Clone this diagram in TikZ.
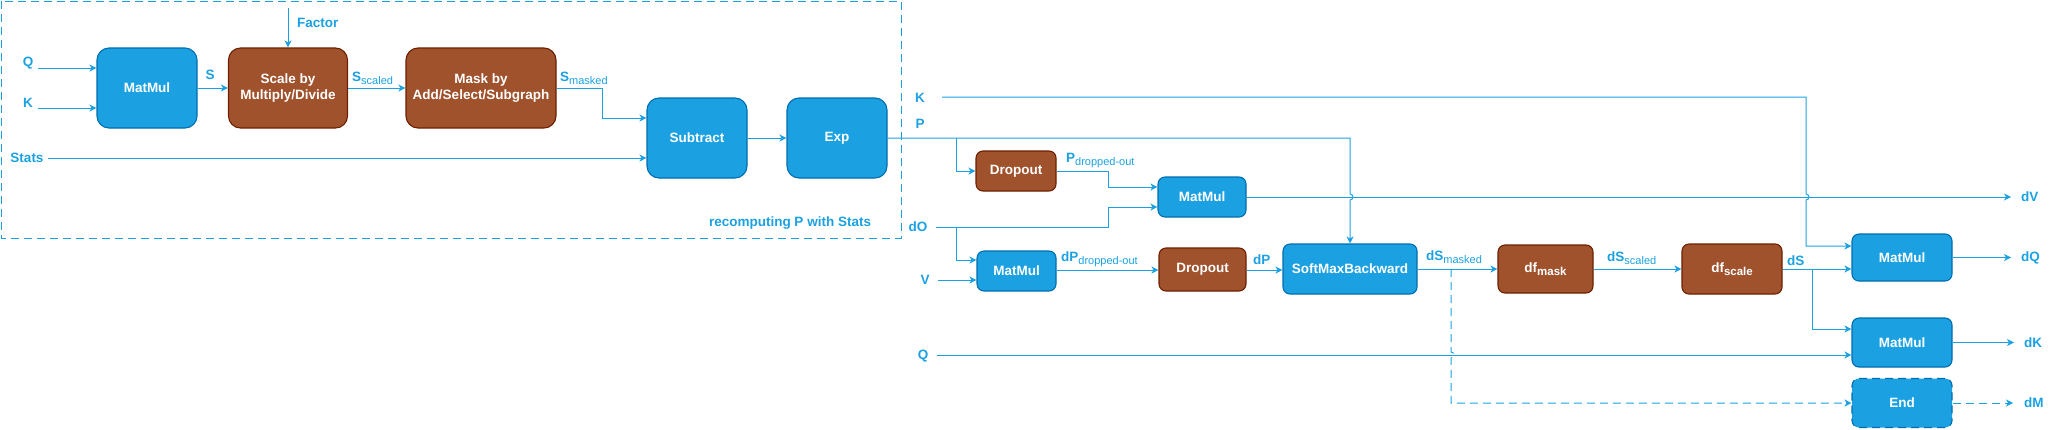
\documentclass[tikz,border=0pt]{standalone}
\usepackage{fontspec}
\setmainfont{Liberation Sans}
\usetikzlibrary{arrows.meta}
\definecolor{bfill}{HTML}{1BA1E2}
\definecolor{bdraw}{HTML}{006EAF}
\definecolor{rfill}{HTML}{A0522D}
\definecolor{rdraw}{HTML}{6D1F00}
\definecolor{ln}{HTML}{1BA1E2}
\tikzset{
  box/.style={line width=1.1pt, text=white, font=\fontsize{13.5}{16}\selectfont\bfseries, align=center, inner sep=0pt},
  bigr/.style={rounded corners=12pt},
  smallr/.style={rounded corners=7pt},
  bbox/.style={box, fill=bfill, draw=bdraw},
  rbox/.style={box, fill=rfill, draw=rdraw},
  lbl/.style={text=ln, font=\fontsize{13.5}{16}\selectfont\bfseries, inner sep=0pt},
  arr/.style={draw=ln, line width=1pt, -{Stealth[length=7pt,width=7pt,inset=2pt]}},
  ln/.style={draw=ln, line width=1pt},
  dsh/.style={dash pattern=on 8pt off 5pt},
}
\newcommand{\sbn}[1]{\raisebox{-3pt}{\fontsize{11}{12}\selectfont\mdseries #1}}
\newcommand{\sbb}[1]{\raisebox{-3pt}{\fontsize{11.5}{12}\selectfont #1}}
\begin{document}
\begin{tikzpicture}[x=1pt,y=-1pt]
\useasboundingbox (0,0) rectangle (2058,429);
% group
\draw[ln,dsh] (1,1) rectangle (901,238);
\node[lbl] (grp) at (790,223) {recomputing P with Stats};
% nodes
\node[bbox,bigr,minimum width=100pt,minimum height=80pt] (mm1) at (147,88) {MatMul};
\node[rbox,bigr,minimum width=119pt,minimum height=80pt] (scale) at (288,88) {Scale by\\Multiply/Divide};
\node[rbox,bigr,minimum width=150pt,minimum height=80pt] (mask) at (481,88) {Mask by\\Add/Select/Subgraph};
\node[bbox,bigr,minimum width=100pt,minimum height=80pt] (sub) at (697,138) {Subtract};
\node[bbox,bigr,minimum width=100pt,minimum height=80pt] (exp) at (837,138) {Exp};
\node[rbox,smallr,minimum width=80pt,minimum height=40pt] (drop1) at (1016,171) {Dropout};
\node[bbox,smallr,minimum width=88pt,minimum height=40pt] (mm2) at (1202,197) {MatMul};
\node[bbox,smallr,minimum width=79pt,minimum height=40pt] (mm3) at (1016.5,271) {MatMul};
\node[rbox,smallr,minimum width=87pt,minimum height=43pt] (drop2) at (1202.5,269.5) {Dropout};
\node[bbox,smallr,minimum width=134pt,minimum height=50pt] (smb) at (1350,269) {SoftMaxBackward};
\node[rbox,smallr,minimum width=95pt,minimum height=48pt] (dfmask) at (1545.5,269) {df\sbb{mask}};
\node[rbox,smallr,minimum width=100pt,minimum height=50pt] (dfscale) at (1732,269) {df\sbb{scale}};
\node[bbox,smallr,minimum width=100pt,minimum height=47pt] (mmdq) at (1902,257.5) {MatMul};
\node[bbox,smallr,minimum width=100pt,minimum height=49pt] (mmdk) at (1902,342.5) {MatMul};
\node[bbox,smallr,dsh,minimum width=100pt,minimum height=49pt] (end) at (1902,403) {End};
% left inputs
\node[lbl] (lq) at (28,63) {Q};
\node[lbl] (lk) at (28,103) {K};
\node[lbl] (lstats) at (27,158) {Stats};
\node[lbl,anchor=west] (lfactor) at (297,23) {Factor};
\coordinate (q0) at (38,68);
\coordinate (k0) at (38,108);
\coordinate (st0) at (48,158);
\coordinate (f0) at (288,8);
\draw[arr] (q0) -- (q0 -| mm1.west);
\draw[arr] (k0) -- (k0 -| mm1.west);
\draw[arr] (st0) -- (st0 -| sub.west);
\draw[arr] (f0) -- (scale.north);
\draw[arr] (mm1) -- (scale);
\node[lbl] (ls) at (210,75) {S};
\draw[arr] (scale) -- (mask);
\node[lbl,anchor=west] (lss) at (352,78) {S\sbn{scaled}};
\draw[arr] (mask.east) -- (602,88) |- (sub.west |- 0,118);
\node[lbl,anchor=west] (lsm) at (560,78) {S\sbn{masked}};
\draw[arr] (sub) -- (exp);
% right side inputs
\node[lbl] (lk2) at (920,98) {K};
\node[lbl] (lp) at (920,124) {P};
\node[lbl] (ldo) at (918,227) {dO};
\node[lbl] (lv) at (925,280) {V};
\node[lbl] (lq2) at (923,356) {Q};
\coordinate (k1) at (942,97);
\coordinate (pb) at (956,138);
\coordinate (do0) at (936,227);
\coordinate (dob) at (956,227);
\coordinate (v0) at (938,280);
\coordinate (q1) at (937,355);
% P
\draw[arr] (exp.east) -- (1350,138) -- (1350,194) arc[start angle=90,end angle=-90,radius=3pt] -- (smb.north);
\draw[arr] (pb) |- (drop1.west);
% K
\draw[arr] (k1) -- (1806,97) -- (1806,194) arc[start angle=90,end angle=-90,radius=3pt] -- (1806,246) -- (mmdq.west |- 0,246);
% dropout1 -> mm2
\draw[arr] (drop1.east) -- (1108,171) |- (mm2.west |- 0,187);
\node[lbl,anchor=west] (lpd) at (1066,160) {P\sbn{dropped-out}};
% dO
\draw[arr] (do0) -- (1108,227) |- (mm2.west |- 0,207);
\draw[arr] (dob) |- (mm3.west |- 0,260);
\draw[arr] (v0) -- (v0 -| mm3.west);
% chain
\draw[arr] (mm3.east |- 0,270) -- (drop2.west |- 0,270);
\node[lbl,anchor=west] (ldpd) at (1061,259) {dP\sbn{dropped-out}};
\draw[arr] (drop2.east |- 0,270) -- (smb.west |- 0,270);
\node[lbl,anchor=west] (ldp) at (1253,260) {dP};
\draw[arr] (smb.east) -- (dfmask.west);
\node[lbl,anchor=west] (ldsm) at (1426,257) {dS\sbn{masked}};
\draw[arr,dsh] (1451,269) -- (1451,352) arc[start angle=90,end angle=-90,radius=3pt] -- (1451,403) -- (end.west);
\draw[arr] (dfmask.east) -- (dfscale.west);
\node[lbl,anchor=west] (ldss) at (1607,258) {dS\sbn{scaled}};
\draw[arr] (dfscale.east) -- (mmdq.west |- 0,269);
\node[lbl,anchor=west] (lds) at (1787,261) {dS};
\draw[arr] (1812,269) |- (mmdk.west |- 0,329);
\draw[arr] (q1) -- (q1 -| mmdk.west);
% outputs
\coordinate (ov) at (2011,197);
\coordinate (oq) at (2011,257.5);
\coordinate (ok) at (2014,342.5);
\coordinate (om) at (2013,403);
\draw[arr] (mm2.east) -- (ov);
\draw[arr] (mmdq.east) -- (oq);
\draw[arr] (mmdk.east) -- (ok);
\draw[arr,dsh] (end.east) -- (om);
\node[lbl,anchor=west] (ldv) at (2021,197) {dV};
\node[lbl,anchor=west] (ldq) at (2021,257.5) {dQ};
\node[lbl,anchor=west] (ldk) at (2024,342.5) {dK};
\node[lbl,anchor=west] (ldm) at (2024,403) {dM};
\end{tikzpicture}
\end{document}
